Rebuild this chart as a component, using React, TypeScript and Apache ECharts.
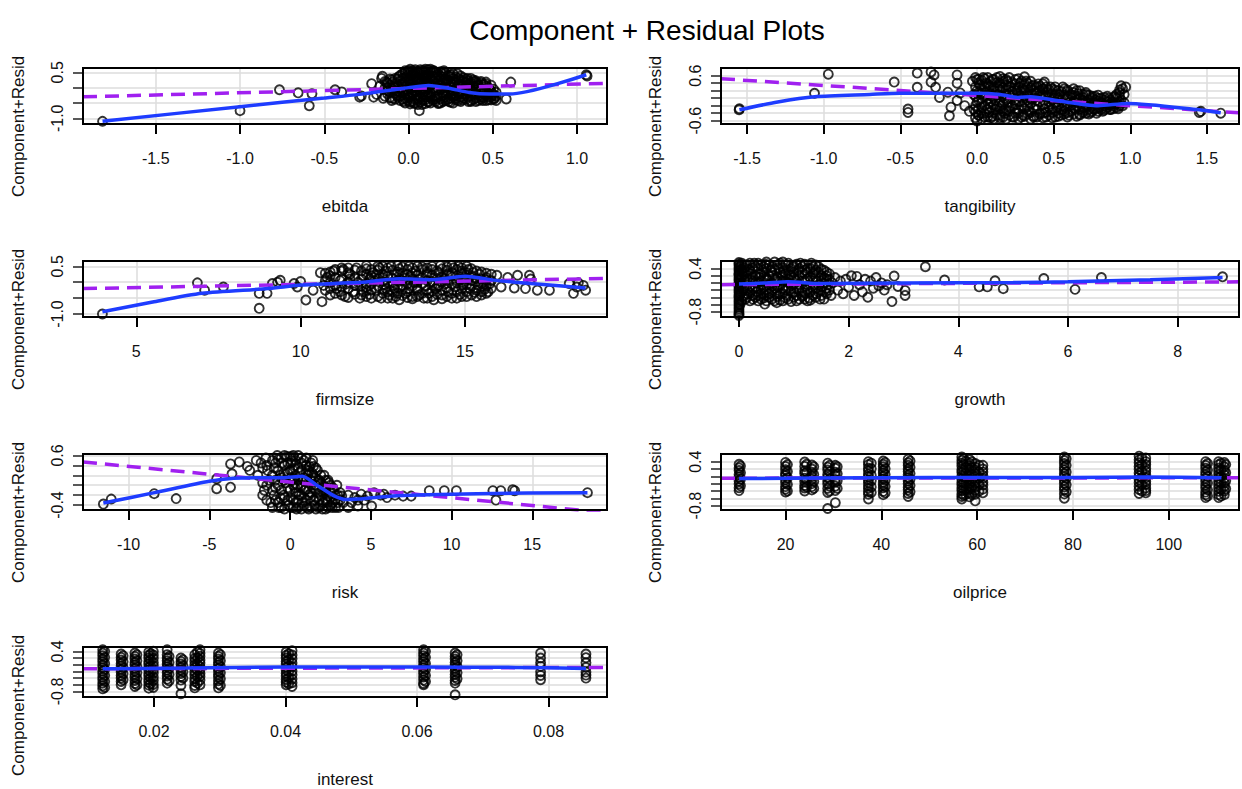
import React, { useEffect, useRef } from 'react';
import * as echarts from 'echarts';

const FONT = '"Liberation Sans", Arial, Helvetica, sans-serif';
const PURPLE = '#A020F0';
const BLUE = '#1E3CFF';

type Col = [number, number[]][];

// ---------- ebitda ----------
const ebitdaXTicks = [-1.5, -1.0, -0.5, 0, 0.5, 1.0];
const ebitdaYTicks = [-1.0, -0.5, 0, 0.5];
const ebitdaYLabels = [-1.0, 0.5];
const ebitdaPoints = [
  [-1.816, -1.1], [-1.0, -0.75], [-0.766, -0.07], [-0.655, -0.17], [-0.589, -0.59], [-0.573, -0.2],
  [-0.436, -0.07], [-0.396, -0.14], [-0.29, -0.31], [-0.28, -0.27], [-0.207, -0.31], [-0.219, 0.13],
  [-0.155, 0.37], [-0.16, 0.3], [0.607, 0.18], [1.055, 0.42], [1.06, 0.38], [0.58, -0.37], [0.064, -0.75], [0.01, -0.53],
  [-0.19, -0.22], [-0.17, 0.05], [-0.15, -0.35], [-0.13, 0.18], [-0.12, -0.1], [-0.1, 0.25], [-0.1, -0.42],
  [-0.08, 0.02], [-0.07, -0.25], [-0.06, 0.35], [-0.05, -0.15], [-0.04, 0.12],
  [-0.03, -0.45], [-0.02, 0.48], [-0.01, -0.05], [0.0, 0.55], [0.0, -0.32], [0.01, 0.2], [0.02, -0.15], [0.02, 0.4],
  [0.03, -0.5], [0.04, 0.05], [0.04, 0.58], [0.05, -0.25], [0.05, 0.3], [0.06, -0.4], [0.07, 0.15], [0.07, 0.5],
  [0.08, -0.08], [0.08, -0.55], [0.09, 0.35], [0.1, -0.3], [0.1, 0.6], [0.11, 0.1], [0.12, -0.45], [0.12, 0.45],
  [0.13, -0.18], [0.14, 0.25], [0.15, -0.02], [0.15, 0.55], [0.03, 0.0], [0.06, 0.25], [0.09, -0.2], [0.11, 0.38],
  [-0.02, 0.2], [0.0, -0.1], [0.13, 0.05],
  [0.16, -0.38], [0.17, 0.4], [0.18, 0.1], [0.18, -0.5], [0.19, 0.28], [0.2, -0.15], [0.21, 0.55], [0.22, -0.3],
  [0.22, 0.2], [0.23, 0.0], [0.24, -0.45], [0.25, 0.35], [0.26, -0.1], [0.27, 0.15], [0.28, -0.35], [0.29, 0.45],
  [0.3, -0.2], [0.3, 0.05], [0.2, 0.45], [0.25, -0.25],
  [0.31, 0.25], [0.32, -0.4], [0.33, -0.05], [0.34, 0.18], [0.35, -0.3], [0.36, 0.1], [0.37, -0.45], [0.38, -0.15],
  [0.39, 0.2], [0.4, -0.35], [0.41, 0.05], [0.42, -0.25], [0.43, 0.15], [0.44, -0.42], [0.45, -0.1], [0.46, 0.12],
  [0.47, -0.3], [0.48, -0.05], [0.49, -0.4], [0.5, -0.2], [0.51, -0.35], [0.52, -0.28], [0.35, 0.3], [0.4, 0.22], [0.45, -0.2],
];
const ebitdaCloud: Col = [
  [-0.14, [-0.28, -0.02, 0.2]],
  [-0.125, [-0.2, 0.0, 0.15]],
  [-0.11, [-0.33, -0.15, 0.08, 0.28]],
  [-0.095, [-0.35, -0.05, 0.18]],
  [-0.08, [-0.38, -0.18, 0.12, 0.3]],
  [-0.065, [-0.3, -0.1, 0.05, 0.28]],
  [-0.05, [-0.42, -0.28, -0.05, 0.22, 0.4]],
  [-0.035, [-0.38, -0.15, 0.1, 0.3, 0.45]],
  [-0.02, [-0.5, -0.35, -0.22, 0.05, 0.32, 0.55]],
  [-0.005, [-0.42, -0.2, 0.0, 0.15, 0.4, 0.52]],
  [0.01, [-0.47, -0.3, -0.02, 0.1, 0.3, 0.5, 0.6]],
  [0.025, [-0.45, -0.25, -0.08, 0.08, 0.25, 0.45, 0.55]],
  [0.04, [-0.52, -0.38, -0.12, 0.2, 0.38, 0.47]],
  [0.055, [-0.55, -0.35, -0.05, 0.12, 0.35, 0.53]],
  [0.07, [-0.48, -0.3, -0.18, 0.0, 0.27, 0.43, 0.58]],
  [0.085, [-0.42, -0.22, -0.02, 0.22, 0.4, 0.56]],
  [0.1, [-0.52, -0.4, -0.12, 0.06, 0.18, 0.33, 0.52]],
  [0.115, [-0.48, -0.28, -0.15, 0.02, 0.25, 0.42, 0.58]],
  [0.13, [-0.5, -0.32, -0.26, 0.1, 0.3, 0.5, 0.6]],
  [0.145, [-0.4, -0.12, 0.18, 0.38, 0.55]],
  [0.16, [-0.45, -0.28, -0.08, 0.13, 0.33, 0.5]],
  [0.175, [-0.52, -0.3, -0.02, 0.22, 0.45]],
  [0.19, [-0.5, -0.36, -0.05, 0.06, 0.38, 0.52]],
  [0.205, [-0.45, -0.25, 0.0, 0.15, 0.35, 0.5]],
  [0.22, [-0.42, -0.2, -0.08, 0.12, 0.28, 0.48]],
  [0.235, [-0.38, -0.15, 0.05, 0.25, 0.4]],
  [0.25, [-0.48, -0.35, 0.05, 0.2, 0.42]],
  [0.265, [-0.5, -0.3, -0.18, 0.1, 0.3, 0.45]],
  [0.28, [-0.4, -0.25, -0.05, 0.25, 0.35]],
  [0.295, [-0.42, -0.15, 0.08, 0.3]],
  [0.31, [-0.45, -0.3, -0.12, 0.1, 0.38]],
  [0.325, [-0.35, -0.2, 0.05, 0.2, 0.32]],
  [0.34, [-0.38, -0.22, 0.0, 0.28]],
  [0.355, [-0.45, -0.1, 0.12, 0.22]],
  [0.37, [-0.42, -0.28, -0.05, 0.15, 0.3]],
  [0.385, [-0.38, -0.22, 0.05, 0.25]],
  [0.4, [-0.45, -0.2, 0.0, 0.15]],
  [0.415, [-0.42, -0.12, 0.1]],
  [0.43, [-0.38, -0.3, -0.05, 0.2]],
  [0.445, [-0.32, -0.15, 0.1]],
  [0.46, [-0.42, -0.25, 0.05, 0.18]],
  [0.475, [-0.4, -0.2, 0.0]],
  [0.49, [-0.3, -0.12, 0.08]],
  [0.505, [-0.38, -0.25, -0.05]],
  [0.52, [-0.42, -0.15]],
];
const ebitdaLinear = [[-1.932, -0.3], [1.178, 0.14]];
const ebitdaSmooth = [
  [-1.816, -1.1], [-1.0, -0.62], [-0.5, -0.34], [-0.29, -0.22], [-0.1, -0.08], [0.0, 0.0], [0.12, 0.07],
  [0.24, -0.02], [0.36, -0.16], [0.48, -0.21], [0.6, -0.21], [1.055, 0.42],
];

// ---------- tangibility ----------
const tangXTicks = [-1.5, -1.0, -0.5, 0, 0.5, 1.0, 1.5];
const tangYTicks = [-0.6, -0.4, -0.2, 0, 0.2, 0.4, 0.6];
const tangYLabels = [-0.6, 0.6];
const tangPoints = [
  [-1.552, -0.31], [-1.55, -0.28], [-1.06, 0.13], [-0.97, 0.64], [-0.54, 0.43], [-0.45, -0.29], [-0.45, -0.38],
  [-0.39, 0.67], [-0.39, 0.29], [-0.3, 0.7], [-0.28, 0.62], [-0.3, 0.43], [-0.27, 0.29], [-0.245, 0.02], [-0.19, 0.16],
  [-0.17, -0.24], [-0.18, -0.47], [-0.13, 0.62], [-0.13, 0.4], [-0.13, -0.06], [-0.11, 0.14], [0.44, 0.43], [0.31, 0.57],
  [1.45, -0.38], [1.46, -0.35], [1.59, -0.4], [0.0, -0.61], [-0.08, -0.2], [-0.05, -0.35],
  [-0.03, 0.45], [-0.02, 0.1], [-0.02, -0.3], [0.0, 0.5], [0.0, 0.2], [0.0, -0.1], [0.01, -0.45], [0.02, 0.35],
  [0.03, 0.0], [0.03, -0.25], [0.04, 0.55], [0.05, -0.5], [0.05, 0.15], [0.06, 0.4], [0.07, -0.15], [0.08, 0.28],
  [0.08, -0.38], [0.09, 0.05], [0.1, 0.5], [0.1, -0.48], [0.11, 0.2], [0.12, -0.05], [0.12, -0.3], [0.13, 0.42],
  [0.14, 0.1], [0.15, -0.52], [0.15, 0.3], [0.16, -0.2], [0.17, 0.52], [0.18, 0.0], [0.18, -0.4], [0.19, 0.2],
  [0.2, -0.1], [0.2, 0.45],
  [0.21, -0.35], [0.22, 0.3], [0.23, 0.08], [0.24, -0.5], [0.25, 0.5], [0.25, -0.15], [0.26, 0.2], [0.27, -0.3],
  [0.28, 0.4], [0.29, 0.0], [0.3, -0.45], [0.3, 0.25], [0.31, -0.1], [0.32, 0.45], [0.33, 0.12], [0.34, -0.35],
  [0.35, -0.02], [0.36, 0.32], [0.37, -0.5], [0.38, 0.15], [0.39, -0.2], [0.4, 0.38], [0.41, -0.4], [0.42, 0.05],
  [0.43, 0.25], [0.44, -0.28], [0.45, -0.5], [0.46, 0.15], [0.47, -0.1], [0.48, 0.3], [0.49, -0.38], [0.5, 0.0],
  [0.51, 0.22], [0.52, -0.25], [0.53, -0.48], [0.54, 0.1], [0.55, -0.12], [0.56, 0.3], [0.57, -0.35], [0.58, 0.0],
  [0.59, 0.18], [0.6, -0.45], [0.61, -0.2], [0.62, 0.08], [0.63, 0.25], [0.64, -0.3], [0.65, -0.05], [0.66, 0.12],
  [0.67, -0.42], [0.68, -0.15], [0.69, 0.02], [0.7, -0.32], [0.71, 0.15], [0.72, -0.22], [0.73, -0.05], [0.74, -0.38],
  [0.75, 0.05], [0.76, -0.28], [0.77, -0.12], [0.78, -0.4], [0.79, 0.0], [0.8, -0.25],
  [0.81, -0.15], [0.82, -0.35], [0.83, -0.05], [0.84, -0.28], [0.85, -0.18], [0.86, 0.0], [0.87, -0.3], [0.88, -0.1],
  [0.89, -0.22], [0.9, 0.05], [0.91, -0.15], [0.92, -0.28], [0.93, 0.15], [0.94, 0.33], [0.94, -0.05], [0.95, 0.25],
  [0.95, -0.2], [0.96, 0.1], [0.97, 0.3], [0.96, -0.12],
];
const tangCloud: Col = [
  [-0.01, [-0.52, -0.36, -0.2, 0.05, 0.3, 0.55]],
  [0.01, [-0.45, -0.28, -0.05, 0.15, 0.4, 0.5]],
  [0.03, [-0.55, -0.4, -0.12, 0.12, 0.25, 0.48]],
  [0.05, [-0.4, -0.2, 0.05, 0.3, 0.52]],
  [0.07, [-0.5, -0.3, -0.02, 0.18, 0.38, 0.55]],
  [0.09, [-0.52, -0.25, -0.1, 0.12, 0.32, 0.45]],
  [0.11, [-0.55, -0.38, -0.18, 0.02, 0.3, 0.5]],
  [0.13, [-0.45, -0.22, 0.08, 0.25, 0.55]],
  [0.15, [-0.45, -0.28, -0.1, 0.22, 0.4, 0.58]],
  [0.17, [-0.5, -0.35, -0.15, 0.05, 0.28, 0.45]],
  [0.19, [-0.55, -0.32, -0.05, 0.1, 0.35, 0.5]],
  [0.21, [-0.45, -0.25, 0.1, 0.3, 0.55]],
  [0.23, [-0.5, -0.2, 0.0, 0.18, 0.42]],
  [0.25, [-0.4, -0.28, -0.05, 0.25, 0.38]],
  [0.27, [-0.55, -0.4, -0.1, 0.12, 0.3, 0.52]],
  [0.29, [-0.5, -0.2, 0.05, 0.18, 0.45]],
  [0.31, [-0.48, -0.28, 0.05, 0.2, 0.38]],
  [0.33, [-0.42, -0.22, -0.05, 0.3, 0.4]],
  [0.35, [-0.55, -0.38, -0.15, 0.08, 0.28, 0.45]],
  [0.37, [-0.48, -0.28, 0.0, 0.2, 0.35]],
  [0.39, [-0.5, -0.3, -0.05, 0.15, 0.3]],
  [0.41, [-0.42, -0.1, 0.08, 0.2, 0.32]],
  [0.43, [-0.52, -0.4, -0.18, 0.1, 0.25, 0.38]],
  [0.45, [-0.38, -0.15, 0.05, 0.3]],
  [0.47, [-0.45, -0.25, 0.02, 0.22]],
  [0.49, [-0.52, -0.28, -0.05, 0.12, 0.25]],
  [0.51, [-0.5, -0.35, -0.12, 0.1, 0.3]],
  [0.53, [-0.4, -0.2, 0.02, 0.2]],
  [0.55, [-0.45, -0.3, -0.05, 0.18]],
  [0.57, [-0.42, -0.22, 0.08, 0.25]],
  [0.59, [-0.5, -0.38, -0.2, 0.05, 0.22]],
  [0.61, [-0.35, -0.1, 0.1]],
  [0.63, [-0.42, -0.25, -0.1, 0.15]],
  [0.65, [-0.48, -0.22, -0.12, 0.05, 0.2]],
  [0.67, [-0.45, -0.3, 0.0, 0.2]],
  [0.69, [-0.38, -0.25, -0.05, 0.1]],
  [0.71, [-0.4, -0.2, -0.08, 0.1]],
  [0.73, [-0.42, -0.3, -0.12, 0.08]],
  [0.75, [-0.35, -0.18, 0.0]],
  [0.77, [-0.3, -0.05, 0.05]],
  [0.79, [-0.35, -0.25, -0.08, 0.08]],
  [0.81, [-0.3, -0.12, 0.0]],
  [0.83, [-0.32, -0.2, 0.02]],
  [0.85, [-0.25, -0.1, 0.05]],
  [0.87, [-0.3, -0.18, -0.05]],
  [0.89, [-0.28, -0.15, 0.02]],
  [0.91, [-0.25, -0.12, 0.0, 0.1]],
  [0.93, [-0.2, -0.1, 0.05, 0.22]],
];
const tangLinear = [[-1.67, 0.52], [1.709, -0.39]];
const tangSmooth = [
  [-1.55, -0.31], [-1.3, -0.1], [-1.06, 0.04], [-0.7, 0.1], [-0.5, 0.13], [0.0, 0.13], [0.15, 0.1], [0.27, 0.02],
  [0.35, 0.04], [0.53, -0.07], [0.79, -0.2], [0.98, -0.14], [1.45, -0.31], [1.59, -0.39],
];

// ---------- firmsize ----------
const firmXTicks = [5, 10, 15];
const firmYTicks = [-1.0, -0.5, 0, 0.5];
const firmYLabels = [-1.0, 0.5];
const firmPoints = [
  [3.97, -1.0], [6.86, -0.02], [7.08, -0.25], [7.65, -0.15], [8.74, -0.35], [8.74, -0.82], [8.98, -0.35],
  [9.14, -0.04], [9.38, 0.06], [9.8, -0.04], [10.16, -0.56], [10.65, -0.61], [10.38, -0.25], [9.3, 0.0],
  [10.0, 0.02], [9.9, -0.15], [15.97, 0.22], [16.6, 0.22], [16.96, 0.22], [16.84, -0.2], [17.2, -0.25],
  [17.57, -0.25], [18.17, -0.04], [18.4, -0.15], [18.67, -0.25], [18.3, -0.35], [16.3, 0.15], [17.0, 0.1],
  [16.5, -0.18], [18.6, -0.1], [18.45, -0.02], [16.1, -0.15],
  [10.6, 0.3], [10.7, -0.1], [10.8, 0.15], [10.9, -0.4], [11.0, 0.35], [11.1, -0.2], [11.2, 0.05], [11.3, 0.4],
  [11.35, -0.45], [11.4, -0.05], [11.5, 0.25], [11.6, -0.3], [11.7, 0.45], [11.75, 0.0], [11.8, -0.5], [11.9, 0.2],
  [12.0, -0.15], [12.0, 0.52], [12.1, -0.38], [12.2, 0.3], [12.25, 0.05], [12.3, -0.25], [12.4, 0.45], [12.45, -0.5],
  [12.5, 0.15], [12.55, -0.08], [12.6, 0.35], [12.7, -0.4], [12.75, 0.5], [12.8, 0.0], [12.85, -0.2], [12.9, 0.25],
  [13.0, -0.55], [13.0, 0.42], [13.1, -0.1], [13.15, 0.12], [13.2, -0.35], [13.3, 0.5], [13.35, 0.2], [13.4, -0.45],
  [13.45, -0.02], [13.5, 0.35], [13.55, -0.25], [13.6, 0.08], [13.7, 0.48], [13.75, -0.5], [13.8, -0.12], [13.85, 0.25],
  [13.9, -0.35], [14.0, 0.4], [14.0, 0.02], [14.05, -0.55], [14.1, -0.2], [14.2, 0.3], [14.25, 0.52], [14.3, -0.4],
  [14.35, 0.1], [14.4, -0.05], [14.45, 0.38], [14.5, -0.3], [14.55, 0.2], [14.6, -0.5], [14.65, 0.45], [14.7, -0.15],
  [14.75, 0.05], [14.8, 0.5], [14.85, -0.38], [14.9, 0.28], [14.95, -0.08], [15.0, 0.15], [15.05, -0.45], [15.1, 0.4],
  [15.15, -0.2], [15.2, 0.05], [15.25, 0.3], [15.3, -0.32], [15.35, 0.12], [15.4, -0.1], [15.45, 0.25], [15.5, -0.4],
  [15.55, 0.0], [15.6, -0.22], [15.65, 0.15], [15.7, -0.3], [15.75, -0.05],
  [11.2, -0.3], [11.9, -0.3], [12.3, 0.25], [13.0, 0.1], [13.6, -0.4], [14.2, -0.1], [14.9, 0.0], [12.6, -0.2],
  [13.3, -0.2], [11.5, 0.1], [12.1, 0.1], [12.9, -0.45],
];
const firmCloud: Col = [
  [10.75, [-0.25, 0.05, 0.28]],
  [10.9, [-0.2, 0.0, 0.2, 0.32]],
  [11.05, [-0.35, -0.1, 0.15, 0.4]],
  [11.25, [-0.4, -0.15, 0.1, 0.35, 0.45]],
  [11.45, [-0.48, -0.2, 0.0, 0.3, 0.45]],
  [11.65, [-0.38, -0.1, 0.15, 0.38]],
  [11.85, [-0.4, -0.12, 0.1, 0.35]],
  [12.0, [-0.45, -0.25, -0.05, 0.25, 0.42]],
  [12.15, [-0.5, -0.25, -0.05, 0.2, 0.4]],
  [12.35, [-0.45, -0.12, 0.12, 0.38, 0.5]],
  [12.5, [-0.35, -0.2, 0.02, 0.25, 0.5]],
  [12.65, [-0.5, -0.3, -0.02, 0.2, 0.45]],
  [12.8, [-0.5, -0.3, -0.1, 0.12, 0.38]],
  [12.95, [-0.35, -0.15, 0.05, 0.32, 0.52]],
  [13.1, [-0.42, -0.22, 0.05, 0.28, 0.48]],
  [13.25, [-0.48, -0.3, -0.05, 0.25, 0.4]],
  [13.4, [-0.52, -0.12, 0.1, 0.3, 0.45]],
  [13.55, [-0.45, -0.2, 0.0, 0.22, 0.5]],
  [13.7, [-0.35, -0.05, 0.15, 0.4]],
  [13.85, [-0.5, -0.25, 0.05, 0.32, 0.45]],
  [14.0, [-0.45, -0.28, -0.1, 0.22, 0.5]],
  [14.15, [-0.38, -0.15, 0.12, 0.35]],
  [14.3, [-0.52, -0.25, 0.0, 0.18, 0.42]],
  [14.45, [-0.45, -0.18, 0.05, 0.25, 0.48]],
  [14.6, [-0.35, -0.05, 0.3, 0.52]],
  [14.75, [-0.5, -0.3, -0.02, 0.2, 0.4]],
  [14.9, [-0.45, -0.2, 0.1, 0.35, 0.45]],
  [15.05, [-0.3, -0.08, 0.1, 0.3, 0.5]],
  [15.2, [-0.4, -0.12, 0.2, 0.42]],
  [15.35, [-0.45, -0.25, 0.02, 0.35]],
  [15.5, [-0.3, -0.05, 0.1, 0.32]],
  [15.65, [-0.35, -0.12, 0.08, 0.28]],
  [15.8, [-0.2, 0.05, 0.25]],
];
const firmLinear = [[3.38, -0.2], [19.32, 0.12]];
const firmSmooth = [
  [3.97, -0.93], [5.5, -0.62], [7.0, -0.35], [9.0, -0.2], [10.0, -0.09], [11.0, -0.04], [12.0, 0.01],
  [13.0, 0.11], [14.0, 0.08], [15.0, 0.19], [16.0, 0.05], [17.0, -0.04], [18.67, -0.18],
];

// ---------- growth ----------
const growthXTicks = [0, 2, 4, 6, 8];
const growthYTicks = [-0.8, -0.6, -0.4, -0.2, 0, 0.2, 0.4];
const growthYLabels = [-0.8, 0.4];
const growthPoints = [
  [0, 0.57], [0, 0.49], [0, 0.43], [0, 0.33], [0, 0.27], [0, 0.21], [0, 0.1], [0, 0.06], [0, -0.03], [0, -0.11],
  [0, -0.17], [0, -0.27], [0, -0.33], [0, -0.41], [0, -0.52], [0, -0.57], [0, -0.68], [0, -0.73], [0, -0.84], [0, -0.91],
  [0.02, 0.45], [0.02, -0.3], [0.02, 0.1], [0.02, -0.6],
  [0.05, 0.3], [0.08, -0.2], [0.1, 0.5], [0.12, -0.45], [0.15, 0.1], [0.18, 0.38], [0.2, -0.1], [0.22, 0.25],
  [0.25, -0.35], [0.28, 0.55], [0.3, 0.0], [0.32, -0.25], [0.35, 0.4], [0.38, 0.15], [0.4, -0.45], [0.42, -0.05],
  [0.45, 0.3], [0.48, 0.52], [0.5, -0.2], [0.52, 0.08], [0.55, -0.4], [0.58, 0.35], [0.6, -0.1], [0.62, 0.2],
  [0.65, 0.58], [0.68, -0.3], [0.7, 0.05], [0.72, 0.42], [0.75, -0.48], [0.78, 0.15], [0.8, -0.15], [0.82, 0.3],
  [0.85, 0.5], [0.88, -0.35], [0.9, 0.0], [0.92, 0.22], [0.95, -0.25], [0.98, 0.45], [1.0, -0.05], [1.02, 0.1],
  [1.05, -0.5], [1.08, 0.35], [1.1, -0.2], [1.12, 0.55], [1.15, 0.05], [1.18, -0.35], [1.2, 0.25], [1.22, -0.1],
  [1.25, 0.4], [1.28, -0.42], [1.3, 0.15], [1.32, 0.55], [1.35, -0.15], [1.38, 0.3], [1.4, -0.3], [1.42, 0.05],
  [1.45, 0.45], [1.48, -0.45], [1.5, 0.2], [1.52, -0.1], [1.55, 0.35], [1.58, -0.25], [1.6, 0.1], [1.62, -0.05],
  [1.65, 0.25], [1.68, -0.35], [1.7, 0.0],
  [0.15, -0.3], [0.35, -0.15], [0.6, 0.45], [0.8, 0.05], [1.0, 0.3], [1.2, -0.45], [0.45, -0.3], [0.7, -0.2],
  [0.25, 0.05], [1.4, 0.35],
  [1.75, 0.15], [1.8, -0.2], [1.85, 0.05], [1.9, -0.3], [1.95, 0.1], [2.0, -0.12], [2.05, 0.2], [2.1, -0.35],
  [2.15, 0.18], [2.2, -0.05], [2.25, -0.25], [2.3, 0.1], [2.35, -0.4], [2.4, 0.05], [2.45, -0.15], [2.5, 0.15],
  [2.55, -0.08], [2.6, 0.0], [2.65, -0.2], [2.7, -0.05], [2.79, -0.52], [2.83, 0.19], [3.03, -0.35], [3.03, -0.21], [2.9, -0.1],
  [0.47, -0.59], [0.69, -0.55], [3.4, 0.45], [3.75, 0.08], [4.38, -0.11], [4.53, -0.11], [4.67, 0.06], [4.82, -0.16],
  [5.56, 0.12], [6.13, -0.18], [6.61, 0.15], [8.82, 0.17],
];
const growthCloud: Col = [
  [0.0, [0.53, 0.38, 0.24, 0.15, 0.0, -0.07, -0.22, -0.37, -0.47, -0.62, -0.78, -0.87]],
  [0.05, [-0.5, -0.25, -0.05, 0.15, 0.38, 0.55]],
  [0.1, [-0.35, -0.15, 0.05, 0.25, 0.42]],
  [0.15, [-0.4, -0.2, 0.2, 0.3, 0.5]],
  [0.2, [-0.5, -0.28, 0.1, 0.35, 0.55]],
  [0.25, [-0.45, -0.15, 0.15, 0.42]],
  [0.3, [-0.4, -0.12, 0.2, 0.45]],
  [0.35, [-0.5, -0.35, 0.0, 0.25, 0.55]],
  [0.4, [-0.3, -0.18, 0.05, 0.25, 0.5]],
  [0.45, [-0.42, -0.12, 0.15, 0.45]],
  [0.5, [-0.5, -0.35, 0.12, 0.4, 0.58]],
  [0.55, [-0.3, -0.05, 0.2, 0.5]],
  [0.6, [-0.45, -0.25, 0.0, 0.3]],
  [0.65, [-0.5, -0.15, 0.1, 0.38]],
  [0.7, [-0.38, -0.1, 0.15, 0.5]],
  [0.75, [-0.3, -0.05, 0.3, 0.55]],
  [0.8, [-0.5, -0.3, 0.22, 0.42, 0.58]],
  [0.85, [-0.42, -0.2, 0.05, 0.25]],
  [0.9, [-0.45, -0.15, 0.1, 0.35, 0.55]],
  [0.95, [-0.52, -0.08, 0.2, 0.4]],
  [1.0, [-0.4, -0.25, 0.15, 0.48]],
  [1.05, [-0.35, -0.15, 0.05, 0.52]],
  [1.1, [-0.45, -0.05, 0.2, 0.4]],
  [1.15, [-0.38, -0.25, 0.3, 0.45]],
  [1.2, [-0.28, 0.05, 0.35, 0.52]],
  [1.25, [-0.5, -0.2, 0.1, 0.3]],
  [1.3, [-0.48, -0.25, -0.05, 0.4]],
  [1.35, [-0.35, 0.05, 0.25, 0.45]],
  [1.4, [-0.4, -0.15, 0.15, 0.5]],
  [1.45, [-0.25, -0.05, 0.3]],
  [1.5, [-0.35, -0.2, 0.05, 0.38]],
  [1.55, [-0.45, 0.0, 0.15]],
  [1.6, [-0.3, -0.15, 0.2, 0.3]],
  [1.65, [-0.2, 0.1]],
];
const growthLinear = [[-0.328, -0.05], [9.12, 0.03]];
const growthSmooth = [
  [0, -0.03], [0.5, 0.0], [0.9, 0.03], [1.5, -0.02], [3.0, 0.0], [5.0, 0.01], [6.0, 0.03], [7.5, 0.09], [8.82, 0.15],
];

// ---------- risk ----------
const riskXTicks = [-10, -5, 0, 5, 10, 15];
const riskYTicks = [-0.4, -0.2, 0, 0.2, 0.4, 0.6];
const riskYLabels = [-0.4, 0.6];
const riskPoints = [
  [-11.57, -0.38], [-11.08, -0.28], [-8.42, -0.17], [-7.06, -0.27], [-4.55, 0.13], [-4.55, -0.07], [-3.69, 0.43],
  [-3.15, 0.47], [-3.6, 0.23], [-3.69, -0.04], [-2.65, 0.38], [-2.5, 0.3], [-2.1, 0.5], [5.05, -0.42], [8.62, -0.11],
  [9.55, -0.11], [10.3, -0.11], [12.56, -0.11], [12.75, -0.3], [13.05, -0.11], [13.79, -0.09], [13.91, -0.11], [18.42, -0.15],
  [3.2, -0.22], [3.6, -0.2], [4.0, -0.25], [4.4, -0.18], [4.8, -0.22], [5.2, -0.15], [5.6, -0.2], [6.0, -0.25],
  [6.5, -0.2], [7.0, -0.22], [7.5, -0.22], [4.6, -0.3], [5.8, -0.18], [3.8, -0.35], [4.2, -0.42],
  [-2.0, 0.2], [-1.8, 0.45], [-1.6, -0.1], [-1.5, 0.55], [-1.3, 0.1], [-1.2, -0.35], [-1.0, 0.35], [-0.9, -0.05],
  [-0.8, 0.6], [-0.7, -0.45], [-0.6, 0.2], [-0.5, 0.45], [-0.4, -0.2], [-0.3, 0.05], [-0.2, 0.58], [-0.1, -0.4],
  [0.0, 0.3], [0.0, -0.1], [0.1, 0.5], [0.2, -0.3], [0.25, 0.15], [0.3, 0.4], [0.4, -0.48], [0.45, 0.0],
  [0.5, 0.6], [0.55, -0.2], [0.6, 0.25], [0.7, 0.45], [0.75, -0.35], [0.8, 0.1], [0.9, -0.1], [1.0, 0.55],
  [1.05, -0.45], [1.1, 0.2], [1.2, 0.38], [1.25, -0.25], [1.3, 0.0], [1.4, 0.5], [1.5, -0.4], [1.55, 0.15],
  [1.6, -0.1], [1.7, 0.3], [1.8, -0.3], [1.9, 0.05], [2.0, -0.48], [2.1, 0.2], [2.2, -0.15], [2.3, -0.35],
  [2.4, 0.05], [2.5, -0.25], [2.6, -0.45], [2.7, -0.1], [2.8, -0.3], [2.9, 0.0], [3.0, -0.45], [-1.4, 0.3],
  [-0.6, -0.25], [0.3, -0.05], [1.0, 0.1], [1.8, 0.1], [2.2, -0.05], [-1.0, -0.2], [0.15, 0.1], [0.65, -0.05],
  [1.35, 0.25], [-0.4, 0.25], [3.3, -0.35], [3.6, -0.45], [4.2, -0.3],
];
const riskCloud: Col = [
  [-1.7, [-0.2, 0.05, 0.35]],
  [-1.45, [-0.3, 0.0, 0.4]],
  [-1.1, [-0.45, -0.1, 0.2, 0.5]],
  [-0.9, [-0.3, 0.1, 0.45]],
  [-0.75, [-0.35, 0.0, 0.3, 0.52]],
  [-0.55, [-0.45, -0.1, 0.15, 0.55]],
  [-0.35, [-0.48, -0.25, 0.1, 0.4, 0.6]],
  [-0.15, [-0.3, -0.05, 0.25, 0.45]],
  [0.05, [-0.45, -0.25, 0.15, 0.45, 0.58]],
  [0.2, [-0.45, 0.0, 0.3, 0.6]],
  [0.35, [-0.35, -0.15, 0.2, 0.5]],
  [0.5, [-0.45, -0.3, 0.1, 0.35]],
  [0.7, [-0.48, -0.2, 0.0, 0.3, 0.55]],
  [0.85, [-0.42, -0.25, 0.15, 0.5]],
  [1.0, [-0.3, -0.08, 0.25, 0.4]],
  [1.15, [-0.48, -0.2, 0.05, 0.3]],
  [1.3, [-0.45, -0.15, 0.1, 0.45]],
  [1.45, [-0.3, -0.05, 0.2, 0.38]],
  [1.6, [-0.48, -0.25, 0.0, 0.35]],
  [1.75, [-0.45, -0.15, 0.1]],
  [1.9, [-0.4, -0.2, 0.2]],
  [2.05, [-0.35, -0.1, 0.0]],
  [2.2, [-0.48, -0.3, -0.1, 0.1]],
  [2.35, [-0.45, -0.22, 0.1]],
  [2.5, [-0.4, -0.15, 0.0]],
  [2.65, [-0.35, -0.05]],
  [2.8, [-0.45, -0.2]],
  [2.95, [-0.35, -0.2]],
  [3.1, [-0.3, -0.15]],
];
const riskLinear = [[-12.83, 0.47], [19.63, -0.556]];
const riskSmooth = [
  [-11.57, -0.36], [-8.4, -0.15], [-5.0, 0.08], [-3.5, 0.14], [-2.0, 0.15], [-0.5, 0.15], [0.75, 0.18],
  [1.7, -0.01], [2.7, -0.21], [3.45, -0.29], [4.2, -0.28], [6.6, -0.21], [11.6, -0.17], [18.42, -0.15],
];

// ---------- oilprice ----------
const oilXTicks = [20, 40, 60, 80, 100];
const oilYTicks = [-0.8, -0.6, -0.4, -0.2, 0, 0.2, 0.4];
const oilYLabels = [-0.8, 0.4];
const oilColumns: Col = [
  [10.3, [0.33, 0.23, 0.16, 0.05, -0.02, -0.13, -0.21, -0.31, -0.39]],
  [10.6, [0.28, 0.1, -0.08, -0.26]],
  [20.0, [0.38, 0.27, 0.18, 0.08, 0.02, -0.09, -0.17, -0.28, -0.35, -0.43]],
  [20.4, [0.32, 0.13, -0.04, -0.22, -0.4]],
  [24.0, [0.39, 0.27, 0.15, 0.08, -0.05, -0.14, -0.25, -0.32, -0.4]],
  [24.4, [0.33, 0.11, -0.1, -0.29]],
  [25.5, [0.31, 0.2, 0.11, 0.0, -0.08, -0.2, -0.28, -0.37]],
  [25.9, [0.26, 0.05, -0.14, -0.33]],
  [28.8, [0.36, 0.25, 0.17, 0.05, -0.03, -0.13, -0.21, -0.33, -0.44, -0.88]],
  [29.2, [0.3, 0.12, -0.08, -0.27, -0.4]],
  [30.4, [0.3, 0.22, 0.11, 0.03, -0.09, -0.16, -0.27, -0.39, -0.72]],
  [30.8, [0.26, 0.07, -0.12, -0.33]],
  [37.3, [0.4, 0.32, 0.22, 0.15, 0.06, -0.01, -0.1, -0.17, -0.26, -0.33, -0.42, -0.49, -0.62]],
  [37.9, [0.36, 0.21, 0.03, -0.12, -0.29, -0.44]],
  [40.4, [0.42, 0.33, 0.26, 0.16, 0.09, 0.0, -0.07, -0.16, -0.24, -0.31, -0.41, -0.5]],
  [40.8, [0.38, 0.21, 0.05, -0.11, -0.28, -0.45]],
  [45.6, [0.47, 0.37, 0.3, 0.2, 0.13, 0.04, -0.04, -0.13, -0.2, -0.3, -0.37, -0.47, -0.55]],
  [46.0, [0.42, 0.25, 0.08, -0.08, -0.25, -0.42]],
  [56.8, [0.53, 0.44, 0.36, 0.28, 0.18, 0.11, 0.01, -0.07, -0.16, -0.23, -0.32, -0.39, -0.48, -0.55, -0.62]],
  [57.2, [0.48, 0.32, 0.15, -0.02, -0.19, -0.35, -0.52]],
  [57.6, [0.41, 0.24, 0.1, -0.06, -0.2, -0.36, -0.5]],
  [58.4, [0.46, 0.36, 0.29, 0.18, 0.1, 0.0, -0.08, -0.18, -0.26, -0.36, -0.45, -0.56]],
  [58.9, [0.4, 0.23, 0.05, -0.13, -0.3, -0.5]],
  [59.6, [0.35, 0.25, 0.17, 0.07, -0.01, -0.11, -0.19, -0.29, -0.38, -0.49, -0.67]],
  [60.4, [0.3, 0.12, -0.05, -0.22, -0.4]],
  [61.2, [0.3, 0.2, 0.12, 0.02, -0.06, -0.16, -0.24, -0.35, -0.45]],
  [78.2, [0.53, 0.43, 0.35, 0.25, 0.17, 0.07, -0.01, -0.11, -0.19, -0.29, -0.37, -0.48, -0.6]],
  [78.6, [0.48, 0.3, 0.12, -0.05, -0.23, -0.42]],
  [93.8, [0.55, 0.45, 0.37, 0.27, 0.19, 0.09, 0.01, -0.09, -0.17, -0.27, -0.36, -0.47]],
  [94.4, [0.5, 0.32, 0.14, -0.04, -0.22, -0.4]],
  [95.2, [0.5, 0.4, 0.32, 0.22, 0.14, 0.04, -0.04, -0.14, -0.22, -0.32, -0.39, -0.45]],
  [107.7, [0.4, 0.3, 0.22, 0.12, 0.04, -0.06, -0.14, -0.24, -0.32, -0.43, -0.5, -0.58]],
  [108.1, [0.35, 0.17, 0.0, -0.18, -0.37, -0.54]],
  [110.4, [0.4, 0.32, 0.22, 0.14, 0.04, -0.04, -0.14, -0.22, -0.32, -0.41, -0.5, -0.58]],
  [110.9, [0.36, 0.18, 0.0, -0.18, -0.36, -0.54]],
  [111.6, [0.38, 0.26, 0.16, 0.04, -0.06, -0.18, -0.28, -0.4, -0.5]],
  [111.9, [0.32, 0.1, -0.12, -0.34]],
];
const oilLinear = [[6.53, -0.05], [114.66, -0.04]];
const oilSmooth = [[10.3, -0.06], [40, -0.04], [60, -0.03], [80, -0.03], [95, -0.02], [111, -0.04]];

// ---------- interest ----------
const interestXTicks = [0.02, 0.04, 0.06, 0.08];
const interestYTicks = [-0.8, -0.6, -0.4, -0.2, 0, 0.2, 0.4];
const interestYLabels = [-0.8, 0.4];
const interestColumns: Col = [
  [0.0122, [0.45, 0.35, 0.27, 0.17, 0.09, -0.01, -0.09, -0.19, -0.27, -0.37, -0.45, -0.55, -0.63, -0.72]],
  [0.0125, [0.4, 0.22, 0.04, -0.14, -0.32, -0.5, -0.68]],
  [0.015, [0.32, 0.22, 0.14, 0.04, -0.04, -0.14, -0.22, -0.32, -0.4, -0.5, -0.6]],
  [0.0153, [0.27, 0.09, -0.09, -0.27, -0.45]],
  [0.0171, [0.35, 0.25, 0.17, 0.07, -0.01, -0.11, -0.19, -0.29, -0.37, -0.47, -0.56, -0.65]],
  [0.0174, [0.3, 0.12, -0.06, -0.24, -0.42, -0.6]],
  [0.0192, [0.38, 0.28, 0.2, 0.1, 0.02, -0.08, -0.16, -0.26, -0.34, -0.44, -0.52, -0.61, -0.7]],
  [0.0195, [0.33, 0.15, -0.03, -0.21, -0.39, -0.57]],
  [0.0199, [0.4, 0.29, 0.19, 0.07, -0.03, -0.15, -0.25, -0.37, -0.47, -0.59, -0.68]],
  [0.022, [0.45, 0.3, 0.2, 0.12, 0.02, -0.06, -0.16, -0.24, -0.34, -0.43, -0.55]],
  [0.0223, [0.25, 0.07, -0.11, -0.29, -0.48]],
  [0.0241, [0.2, 0.1, 0.02, -0.08, -0.16, -0.26, -0.35, -0.46, -0.62, -0.87]],
  [0.0244, [0.15, -0.03, -0.21, -0.4]],
  [0.0262, [0.3, 0.19, 0.1, -0.01, -0.1, -0.21, -0.3, -0.41, -0.5, -0.62, -0.69]],
  [0.0266, [0.38, 0.2, 0.02, -0.16, -0.34, -0.55]],
  [0.027, [0.45, 0.34, 0.25, 0.14, 0.05, -0.06, -0.15, -0.26, -0.35, -0.46, -0.6]],
  [0.0298, [0.35, 0.25, 0.17, 0.07, -0.01, -0.11, -0.19, -0.29, -0.37, -0.48, -0.58, -0.69]],
  [0.0301, [0.3, 0.12, -0.06, -0.24, -0.42, -0.62]],
  [0.0401, [0.38, 0.28, 0.2, 0.1, 0.02, -0.08, -0.16, -0.26, -0.34, -0.44, -0.52, -0.6]],
  [0.0405, [0.33, 0.15, -0.03, -0.21, -0.39, -0.57]],
  [0.041, [0.42, 0.29, 0.18, 0.05, -0.06, -0.19, -0.3, -0.43, -0.54, -0.65]],
  [0.061, [0.45, 0.35, 0.27, 0.17, 0.09, -0.01, -0.09, -0.19, -0.27, -0.37, -0.46, -0.56, -0.6]],
  [0.0613, [0.4, 0.22, 0.04, -0.14, -0.32, -0.5]],
  [0.0658, [0.35, 0.25, 0.17, 0.07, -0.01, -0.11, -0.19, -0.29, -0.37, -0.47, -0.55, -0.9]],
  [0.0661, [0.3, 0.12, -0.06, -0.24, -0.42]],
  [0.0788, [0.35, 0.2, 0.06, -0.05, -0.21, -0.32, -0.45]],
  [0.0857, [0.32, 0.21, 0.06, -0.08, -0.22, -0.31, -0.4]],
];
const interestLinear = [[0.0092, -0.12], [0.0889, -0.08]];
const interestSmooth = [[0.0122, -0.12], [0.025, -0.1], [0.04, -0.07], [0.061, -0.07], [0.075, -0.08], [0.0857, -0.11]];

const fromColumns = (cols: Col) => cols.flatMap(([x, ys]) => ys.map((y) => [x, y]));

const panels = [
  { name: 'ebitda', col: 0, row: 0, xr: [-1.932, 1.178], yr: [-1.186, 0.64], xt: ebitdaXTicks, yt: ebitdaYTicks, yl: ebitdaYLabels, xd: 1, pts: ebitdaPoints.concat(fromColumns(ebitdaCloud)), lin: ebitdaLinear, sm: ebitdaSmooth },
  { name: 'tangibility', col: 1, row: 0, xr: [-1.67, 1.709], yr: [-0.688, 0.805], xt: tangXTicks, yt: tangYTicks, yl: tangYLabels, xd: 1, pts: tangPoints.concat(fromColumns(tangCloud)), lin: tangLinear, sm: tangSmooth },
  { name: 'firmsize', col: 0, row: 1, xr: [3.38, 19.32], yr: [-1.093, 0.667], xt: firmXTicks, yt: firmYTicks, yl: firmYLabels, xd: 0, pts: firmPoints.concat(fromColumns(firmCloud)), lin: firmLinear, sm: firmSmooth },
  { name: 'growth', col: 1, row: 1, xr: [-0.328, 9.12], yr: [-0.95, 0.61], xt: growthXTicks, yt: growthYTicks, yl: growthYLabels, xd: 0, pts: growthPoints.concat(fromColumns(growthCloud)), lin: growthLinear, sm: growthSmooth },
  { name: 'risk', col: 0, row: 2, xr: [-12.83, 19.63], yr: [-0.5, 0.63], xt: riskXTicks, yt: riskYTicks, yl: riskYLabels, xd: 0, pts: riskPoints.concat(fromColumns(riskCloud)), lin: riskLinear, sm: riskSmooth },
  { name: 'oilprice', col: 1, row: 2, xr: [6.53, 114.66], yr: [-0.92, 0.61], xt: oilXTicks, yt: oilYTicks, yl: oilYLabels, xd: 0, pts: fromColumns(oilColumns), lin: oilLinear, sm: oilSmooth },
  { name: 'interest', col: 0, row: 3, xr: [0.0092, 0.0889], yr: [-0.965, 0.53], xt: interestXTicks, yt: interestYTicks, yl: interestYLabels, xd: 2, pts: fromColumns(interestColumns), lin: interestLinear, sm: interestSmooth },
];

const COL_LEFT = [83, 721];
const COL_WIDTH = [524, 518];
const ROW_TOP = [68, 261, 454, 647];
const BOX_H = 56;
const TICK_LEN = 10;

function buildOption() {
  const grid: any[] = [];
  const xAxis: any[] = [];
  const yAxis: any[] = [];
  const series: any[] = [];
  const graphic: any[] = [
    {
      type: 'text', x: 647, y: 30,
      style: { text: 'Component + Residual Plots', font: `28px ${FONT}`, fill: '#000', textAlign: 'center', textVerticalAlign: 'middle' },
    },
  ];
  panels.forEach((p, i) => {
    grid.push({
      left: COL_LEFT[p.col], top: ROW_TOP[p.row], width: COL_WIDTH[p.col], height: BOX_H,
      show: true, borderColor: '#000', borderWidth: 2, backgroundColor: 'transparent', z: 10,
    });
    xAxis.push({
      type: 'value', gridIndex: i, min: p.xr[0], max: p.xr[1], position: 'bottom',
      name: p.name, nameLocation: 'middle', nameGap: 74,
      nameTextStyle: { fontFamily: FONT, fontSize: 17, color: '#111' },
      axisLine: { show: true, onZero: false, lineStyle: { color: '#000', width: 2 } },
      axisTick: { show: true, inside: false, length: TICK_LEN, customValues: p.xt, lineStyle: { color: '#000', width: 2 } },
      axisLabel: { customValues: p.xt, margin: 26, fontFamily: FONT, fontSize: 16, color: '#111', formatter: (v: number) => Number(v).toFixed(p.xd) },
      splitLine: { show: true, lineStyle: { color: '#DCDCDC', width: 1.5 } },
    });
    yAxis.push({
      type: 'value', gridIndex: i, min: p.yr[0], max: p.yr[1], position: 'left',
      axisLine: { show: false, onZero: false },
      axisTick: { show: true, inside: false, length: TICK_LEN, customValues: p.yt, lineStyle: { color: '#222', width: 1.5 } },
      axisLabel: { customValues: p.yl, rotate: 90, margin: 18, fontFamily: FONT, fontSize: 16, color: '#111', formatter: (v: number) => Number(v).toFixed(1) },
      splitLine: { show: true, lineStyle: { color: '#DCDCDC', width: 1.5 } },
    });
    series.push({
      type: 'scatter', xAxisIndex: i, yAxisIndex: i, data: p.pts, symbol: 'circle', symbolSize: 9,
      itemStyle: { color: 'rgba(0,0,0,0)', borderColor: '#000', borderWidth: 1.9 }, z: 2, silent: true,
    });
    series.push({
      type: 'line', xAxisIndex: i, yAxisIndex: i, data: p.lin, showSymbol: false, symbol: 'none',
      lineStyle: { color: PURPLE, width: 3.5, type: [14, 8] }, z: 3, silent: true,
    });
    series.push({
      type: 'line', xAxisIndex: i, yAxisIndex: i, data: p.sm, showSymbol: false, symbol: 'none', smooth: 0.25,
      lineStyle: { color: BLUE, width: 3.5 }, z: 4, silent: true,
    });
    graphic.push({
      type: 'text', x: p.col === 0 ? 18 : 655, y: 197 + p.row * 193, rotation: Math.PI / 2,
      style: { text: 'Component+Resid', font: `17px ${FONT}`, fill: '#111', textAlign: 'left', textVerticalAlign: 'middle' },
    });
  });
  return { animation: false, backgroundColor: '#fff', grid, xAxis, yAxis, series, graphic };
}

export default function App() {
  const ref = useRef<HTMLDivElement>(null);
  useEffect(() => {
    if (!ref.current) return;
    const chart = echarts.init(ref.current, undefined, { renderer: 'svg' });
    chart.setOption(buildOption() as any);
    return () => chart.dispose();
  }, []);
  return <div ref={ref} style={{ width: 1242, height: 789, position: 'absolute', left: 0, top: 0 }} />;
}
